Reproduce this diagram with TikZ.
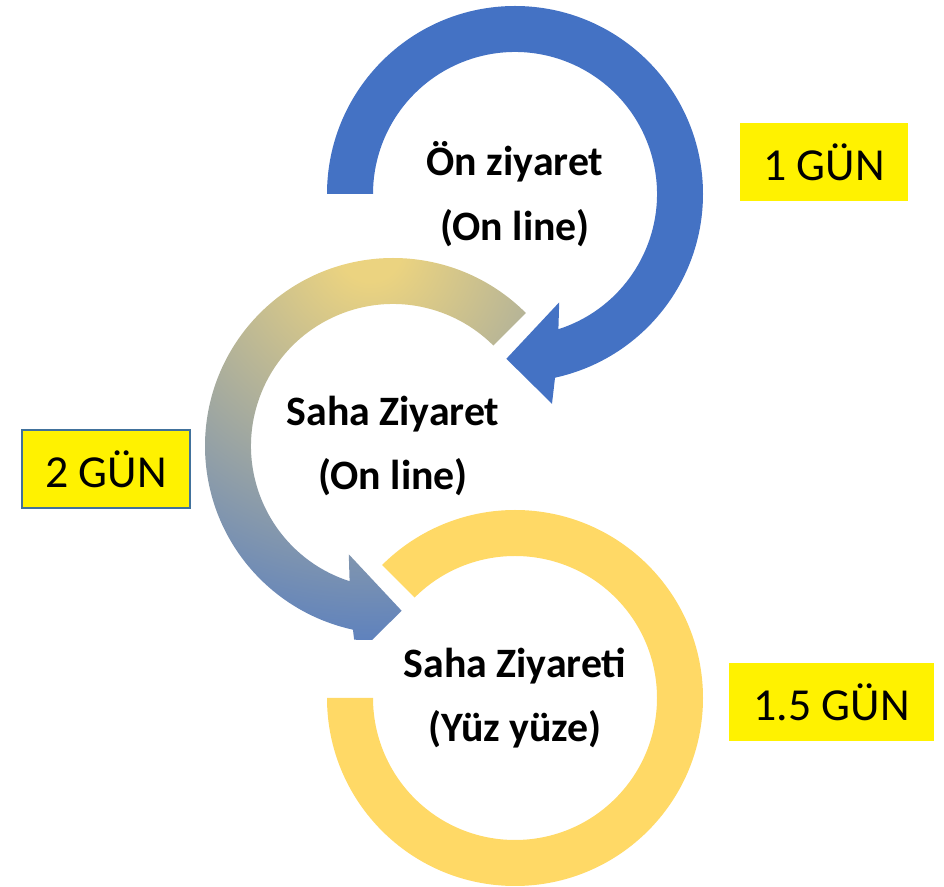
\documentclass[tikz,border=0pt]{standalone}
\usepackage{fontspec}
\setmainfont{Carlito}
\definecolor{ringblue}{HTML}{4472C4}
\definecolor{ringgold}{HTML}{FFD966}
\definecolor{fadegold}{HTML}{EBD380}
\definecolor{fadeblue}{HTML}{5F82BD}
\definecolor{boxline}{HTML}{41719C}
\pgfdeclareradialshading{midglow}{\pgfpoint{0bp}{0bp}}{color(0bp)=(fadegold); color(2bp)=(fadegold); color(25bp)=(fadeblue); color(50bp)=(fadeblue)}
% circular arrow: shaft from #2 to the head, head drawn with #3 = +1 (clockwise) or -1
\newcommand{\ringarrow}[3]{
  (#1:188) arc[start angle=#1, end angle=#2-#3*2.7, radius=188]
  -- (#2-#3*5:213) -- (#2-#3*18:165) -- (#2+#3*7.2:117) -- (#2+#3*2.8:142)
  arc[start angle=#2+#3*2.8, end angle=#1, radius=142] -- cycle
}
\tikzset{
  daybox/.style={fill=yellow, minimum height=39bp, inner sep=0pt,
    font=\fontsize{23}{27}\selectfont},
  steplabel/.style={align=center, font=\bfseries\fontsize{21}{32.5}\selectfont},
}
\begin{document}
\begin{tikzpicture}[x=0.5bp, y=0.5bp]
  \useasboundingbox (0,0) rectangle (944,887);
  \coordinate (top) at (515,693);
  \coordinate (mid) at (393,441);
  \coordinate (low) at (515,189);
  % first visit, blue arrow
  \fill[ringblue, shift={(top)}] \ringarrow{180}{-75}{1};
  % second visit, shaded arrow
  \begin{scope}
    \clip[shift={(mid)}] \ringarrow{45}{255}{-1};
    \shade[shading=midglow] (370,637) circle (390);
  \end{scope}
  % third visit, open ring
  \fill[ringgold, shift={(low)}] (180:188) arc[start angle=180, end angle=495, radius=188]
    -- (135:142) arc[start angle=135, end angle=-180, radius=142] -- cycle;
  \node[steplabel] (onziyaret) at (top) {Ön ziyaret\\(On line)};
  \node[steplabel] (sahaziyaret) at (mid) {Saha Ziyaret\\(On line)};
  \node[steplabel] (sahaziyareti) at (low) {Saha Ziyareti\\(Yüz yüze)};
  \node[daybox, minimum width=84bp] (gun1) at (824,725) {1 GÜN};
  \node[daybox, minimum width=84bp, draw=boxline, line width=0.6bp] (gun2) at (106,418) {2 GÜN};
  \node[daybox, minimum width=102.5bp] (gun15) at (831.5,185) {1.5 GÜN};
\end{tikzpicture}
\end{document}
